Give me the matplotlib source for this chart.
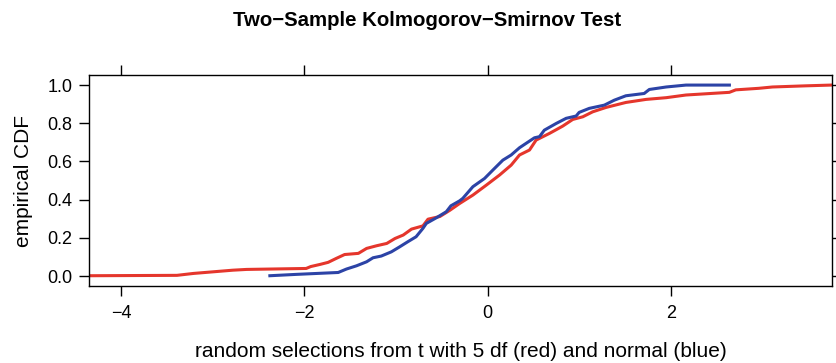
import matplotlib
matplotlib.use('Agg')
import matplotlib.pyplot as plt

plt.rcParams['font.family'] = ['Liberation Sans', 'DejaVu Sans']

# ECDF knots, t with 5 df (red)
t_x = [-4.34, -3.39, -3.21, -2.78, -2.63, -1.98, -1.93, -1.83, -1.74, -1.65,
       -1.56, -1.41, -1.32, -1.21, -1.10, -1.01, -0.92, -0.83, -0.705, -0.65,
       -0.52, -0.41, -0.305, -0.16, -0.014, 0.131, 0.258, 0.349, 0.458, 0.53,
       0.676, 0.82, 0.93, 1.04, 1.148, 1.294, 1.51, 1.73, 1.95, 2.166,
       2.64, 2.71, 2.96, 3.11, 3.47, 3.75]
t_y = [0.002, 0.004, 0.014, 0.031, 0.035, 0.040, 0.050, 0.061, 0.072, 0.093,
       0.113, 0.119, 0.145, 0.159, 0.171, 0.197, 0.215, 0.246, 0.263, 0.298,
       0.312, 0.345, 0.380, 0.424, 0.476, 0.529, 0.581, 0.634, 0.660, 0.712,
       0.747, 0.785, 0.820, 0.834, 0.860, 0.883, 0.909, 0.925, 0.934, 0.948,
       0.962, 0.975, 0.983, 0.990, 0.996, 1.000]

# ECDF knots, normal (blue)
n_x = [-2.376, -2.09, -1.63, -1.54, -1.43, -1.32, -1.25, -1.16, -1.05, -0.96,
       -0.87, -0.78, -0.705, -0.668, -0.56, -0.45, -0.40, -0.305, -0.27, -0.16,
       -0.033, 0.058, 0.167, 0.258, 0.349, 0.512, 0.567, 0.62, 0.749, 0.858,
       0.967, 1.00, 1.11, 1.275, 1.384, 1.51, 1.71, 1.766, 1.95, 2.166, 2.64]
n_y = [0.002, 0.009, 0.019, 0.037, 0.054, 0.075, 0.096, 0.105, 0.127, 0.153,
       0.180, 0.206, 0.250, 0.276, 0.305, 0.337, 0.368, 0.394, 0.407, 0.468,
       0.511, 0.555, 0.607, 0.634, 0.672, 0.724, 0.730, 0.764, 0.799, 0.826,
       0.838, 0.857, 0.878, 0.895, 0.921, 0.944, 0.956, 0.977, 0.990, 1.000, 1.000]

x_ticks = [-4, -2, 0, 2]
y_ticks = [0.0, 0.2, 0.4, 0.6, 0.8, 1.0]

fig = plt.figure(figsize=(8.36, 3.63), dpi=100)
ax = fig.add_axes([0.1065, 0.212, 0.8887, 0.581])

ax.plot(t_x, t_y, color='#E5362C', lw=2.2, solid_joinstyle='round')
ax.plot(n_x, n_y, color='#2C43A6', lw=2.2, solid_joinstyle='round')

ax.set_xlim(-4.35, 3.76)
ax.set_ylim(-0.052, 1.052)

ax.set_xticks(x_ticks)
ax.set_xticklabels(['\u22124', '\u22122', '0', '2'])
ax.set_yticks(y_ticks)
ax.set_yticklabels(['%.1f' % v for v in y_ticks])
ax.tick_params(direction='out', length=7, width=1, labelsize=13, color='black',
               top=True, right=True, labeltop=False, labelright=False)
ax.tick_params(axis='x', pad=7)
ax.tick_params(axis='y', pad=5)
for s in ax.spines.values():
    s.set_linewidth(1)

ax.set_xlabel('random selections from t with 5 df (red) and normal (blue)',
              fontsize=15, labelpad=14)
ax.set_ylabel('empirical CDF', fontsize=15, labelpad=10)
fig.suptitle('Two\u2212Sample Kolmogorov\u2212Smirnov Test', fontsize=14.7,
             fontweight='bold', x=0.511, y=0.97)

fig.savefig('out.png', dpi=100)
